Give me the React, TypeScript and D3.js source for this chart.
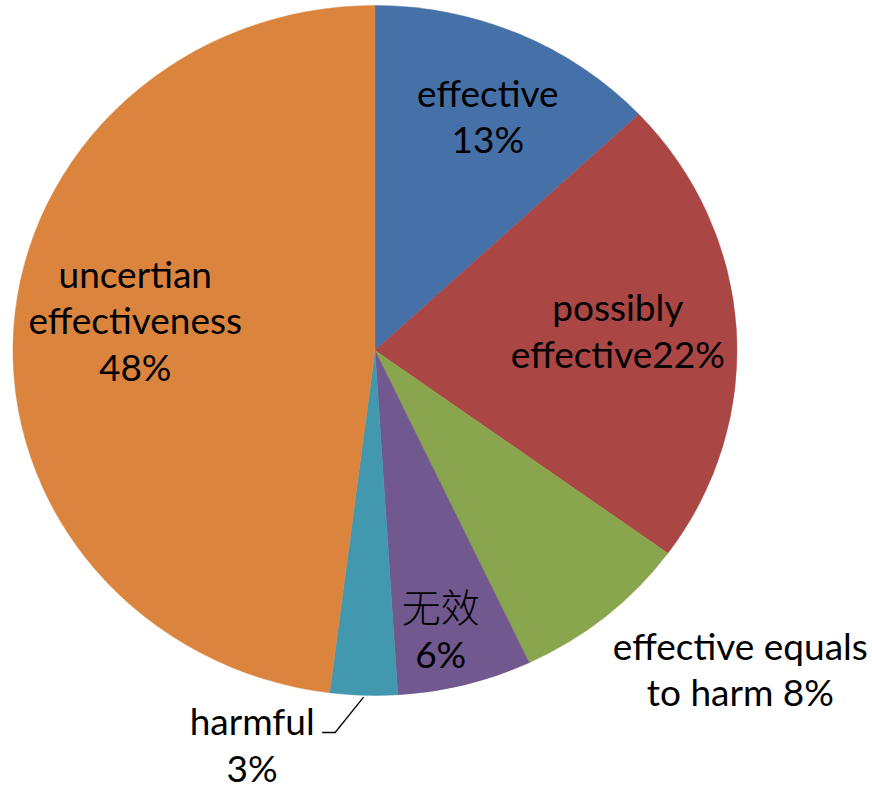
import React from "react";
import * as d3 from "d3";

// Share of studies by effectiveness verdict (percent)
const categories = [
  "effective",
  "possibly effective",
  "effective equals to harm",
  "无效",
  "harmful",
  "uncertian effectiveness",
];
const shares = [13, 22, 8, 6, 3, 48];
const labelLines = [
  ["effective", "13%"],
  ["possibly", "effective22%"],
  ["effective equals", "to harm 8%"],
  ["无效", "6%"],
  ["harmful", "3%"],
  ["uncertian", "effectiveness", "48%"],
];

const colors = ["#4571A8", "#AA4644", "#89A64E", "#71588F", "#4298AF", "#DB843D"];

// Label placement: radius as a fraction of the pie radius, angle nudge (deg) from the slice middle
const labelRadius = [0.711, 0.671, 1.396, 0.873, 1.231, 0.664];
const labelNudge = [2.6, 2.1, -6.7, 2.4, 14.2, 0.5];

const W = 872;
const H = 788;
const cx = 375;
const cy = 350.5;
const rx = 362;
const ry = 345;
const lineH = 46.5;
const fontSize = 37;
const cjkSize = 39;
const latin = "Lato, 'Open Sans', sans-serif";
const cjk = "'Noto Sans CJK SC', sans-serif";
const isCjk = (t: string) => /[\u4e00-\u9fff]/.test(t);

export default function App() {
  const pie = d3
    .pie<number>()
    .sort(null)
    .value((d) => d)
    .startAngle(0)
    .endAngle(2 * Math.PI);
  const arcs = pie(shares);
  const arc = d3.arc<d3.PieArcDatum<number>>().innerRadius(0).outerRadius(ry);

  const toXY = (angle: number, r: number): [number, number] => [
    cx + Math.sin(angle) * rx * r,
    cy - Math.cos(angle) * ry * r,
  ];

  return (
    <svg width={W} height={H} style={{ position: "absolute", left: 0, top: 0 }}>
      <rect width={W} height={H} fill="#fff" />
      <g transform={`translate(${cx},${cy}) scale(${rx / ry},1)`}>
        {arcs.map((a, i) => (
          <path key={categories[i]} d={arc(a) || ""} fill={colors[i]} stroke={colors[i]} strokeWidth={0.5} />
        ))}
      </g>
      {arcs.map((a, i) => {
        const mid = (a.startAngle + a.endAngle) / 2 + (labelNudge[i] * Math.PI) / 180;
        const [lx, ly] = toXY(mid, labelRadius[i]);
        const lines = labelLines[i];
        const n = lines.length;
        return (
          <text key={categories[i]} textAnchor="middle" fill="#000">
            {lines.map((t, j) => (
              <tspan
                key={j}
                x={lx}
                y={ly + (j - (n - 1) / 2) * lineH}
                fontFamily={isCjk(t) ? cjk : latin}
                fontSize={isCjk(t) ? cjkSize : fontSize}
                fontWeight={isCjk(t) ? 300 : 400}
              >
                {t}
              </tspan>
            ))}
          </text>
        );
      })}
      {(() => {
        // Leader line for the thin "harmful" slice
        const i = 4;
        const a = arcs[i];
        const mid = (a.startAngle + a.endAngle) / 2;
        const [sx, sy] = toXY(mid, 1.005);
        const [lx, ly] = toXY(mid + (labelNudge[i] * Math.PI) / 180, labelRadius[i]);
        const firstBase = ly - lineH / 2;
        const textRight = lx + 65;
        const pts: [number, number][] = [
          [sx, sy],
          [textRight + 18, firstBase - 3],
          [textRight + 5, firstBase - 3],
        ];
        return <path d={d3.line()(pts) || ""} fill="none" stroke="#000" strokeWidth={1.3} />;
      })()}
    </svg>
  );
}
